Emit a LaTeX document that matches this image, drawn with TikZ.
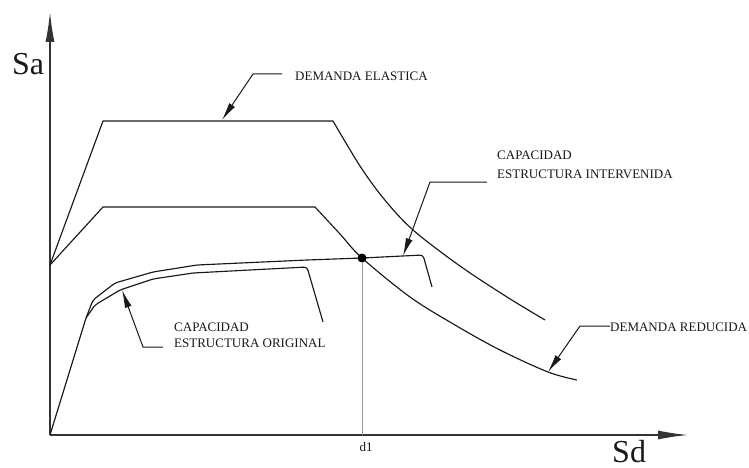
\documentclass[tikz,border=0pt]{standalone}
\usepackage{fontspec}
\setmainfont{Liberation Serif}
\usetikzlibrary{arrows.meta}
\begin{document}
\begin{tikzpicture}[x=1pt,y=-1pt,
  axisline/.style={draw=black!80, line width=1.4pt, -{Latex[length=30pt,width=9pt]}},
  curve/.style={draw=black!90, line width=1.15pt, line join=round},
  callout/.style={draw=black!90, line width=1pt, -{Latex[length=18pt,width=7pt]}},
  guide/.style={draw=black!40, line width=0.8pt},
  lbl/.style={font=\fontsize{13}{15.6}\selectfont, text=black!90, inner sep=0pt, align=left},
  axlbl/.style={font=\fontsize{32}{36}\selectfont, text=black!90, inner sep=0pt},
  dotmark/.style={circle, fill=black, inner sep=0pt, minimum size=9pt}]
\useasboundingbox (0,0) rectangle (749,468);
\fill[white] (0,0) rectangle (749,468);
% axes
\coordinate (o) at (50,435);
\coordinate (ytop) at (50,12);
\coordinate (xend) at (688,435);
\draw[axisline] (o) -- (ytop);
\draw[axisline] (o) -- (xend);
\node[axlbl, anchor=base west] (sa) at (12,75) {Sa};
\node[axlbl, anchor=base west] (sd) at (612,462) {Sd};
% demand elastic
\draw[curve] (50,265) -- (103,121) -- (333,121) -- plot[smooth, tension=0.55] coordinates {(333,121) (360,166) (384,199) (413,230) (460,266) (507,297) (545,320)};
% demand reduced
\draw[curve] (50,265) -- (103,207) -- (315,207) -- plot[smooth, tension=0.55] coordinates {(315,207) (340,234) (362,258) (410,297) (455,325) (500,350) (548,372) (577,380)};
% capacity intervened
\draw[curve, rounded corners=3pt] (o) -- (86,318) -- (93,300) -- (115,283) -- (153,272) -- (197,265) -- (307,260) -- (362,258) -- (423,255) -- (432,287);
% capacity original
\draw[curve, rounded corners=3pt] (86,318) -- (95,305) -- (120,290) -- (153,279) -- (193,273) -- (307,267) -- (323,322);
% performance point
\node[dotmark] (pp) at (362,258) {};
\draw[guide] (pp) -- (pp |- o);
\node[lbl, anchor=base] (d1) at (366,451) {d1};
% callouts
\node[lbl, anchor=base west] (deTxt) at (295,81) {DEMANDA ELASTICA};
\coordinate (deA) at (282,74);
\coordinate (deTip) at (222,120);
\draw[callout] (deA) -- (253,74) -- (deTip);

\node[lbl, anchor=base west] (ciTxt) at (497,178) {CAPACIDAD\\[3pt]ESTRUCTURA INTERVENIDA};
\coordinate (ciA) at (487,182);
\coordinate (ciTip) at (403,256);
\draw[callout] (ciA) -- (430,182) -- (ciTip);

\node[lbl, anchor=base west] (coTxt) at (174,347) {CAPACIDAD\\ESTRUCTURA ORIGINAL};
\coordinate (coA) at (163,347);
\coordinate (coTip) at (122,290);
\draw[callout] (coA) -- (143,347) -- (coTip);

\node[lbl, anchor=base west] (drTxt) at (610,331) {DEMANDA REDUCIDA};
\coordinate (drTip) at (548,372);
\draw[callout] (drTxt.west |- 0,326) -- (580,326) -- (drTip);
\end{tikzpicture}
\end{document}
